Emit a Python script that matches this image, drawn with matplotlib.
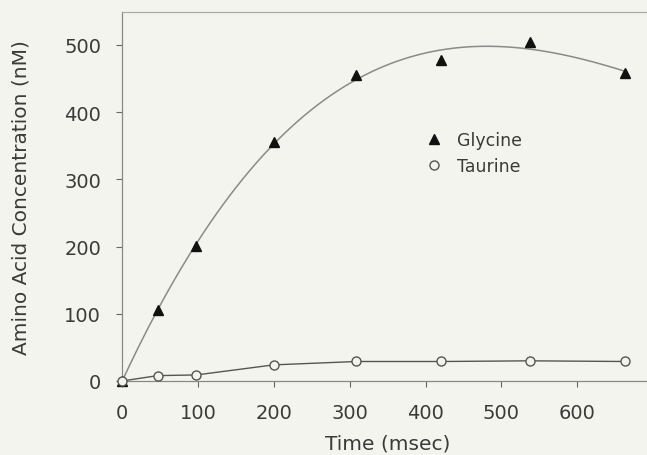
import numpy as np
import matplotlib
matplotlib.use("Agg")
import matplotlib.pyplot as plt

# Time points (msec) and measured concentrations (nM)
time_ms = [0, 47, 98, 200, 309, 421, 538, 663]
glycine = [0, 106, 201, 356, 455, 477, 505, 458]
taurine = [0, 8, 9, 24, 29, 29, 30, 29]

x_ticks = [0, 100, 200, 300, 400, 500, 600]
y_ticks = [0, 100, 200, 300, 400, 500]

bg = "#f4f4ef"
line_col = "#8a8a8a"
txt_col = "#3a3a3a"

plt.rcParams["font.family"] = ["DejaVu Sans"]

fig = plt.figure(figsize=(6.47, 4.56), dpi=100, facecolor=bg)
ax = fig.add_axes([0.1886, 0.1623, 0.8209, 0.8092], facecolor=bg)

# Smooth fitted curve for glycine
coef = np.polyfit(time_ms, glycine, 3)
xs = np.linspace(0, max(time_ms), 300)
ax.plot(xs, np.polyval(coef, xs), color=line_col, lw=1.1, zorder=2)

# Taurine trace
ax.plot(time_ms, taurine, color="#555555", lw=1.0, zorder=2)

ax.plot(time_ms, glycine, linestyle="none", marker="^", ms=6.5,
        mfc="#111111", mec="#111111", label="Glycine", zorder=3, clip_on=False)
ax.plot(time_ms, taurine, linestyle="none", marker="o", ms=6.5,
        mfc=bg, mec="#555555", mew=1.0, label="Taurine", zorder=3, clip_on=False)

ax.set_xlim(0, 700)
ax.set_ylim(0, 549)
ax.set_xticks(x_ticks)
ax.set_yticks(y_ticks)
ax.tick_params(direction="out", length=4, width=0.8, color="#666666",
               labelsize=14, labelcolor=txt_col)
ax.tick_params(axis="y", pad=11)
ax.tick_params(axis="x", pad=12)

for side in ["left", "bottom", "top"]:
    ax.spines[side].set_color("#888888")
    ax.spines[side].set_linewidth(0.9)
ax.spines["right"].set_visible(False)
ax.spines["top"].set_color("#aaaaaa")

ax.set_xlabel("Time (msec)", fontsize=14.5, color=txt_col, labelpad=8)
ax.set_ylabel("Amino Acid Concentration (nM)", fontsize=14.5, color=txt_col, labelpad=24)

leg = ax.legend(loc="upper left", bbox_to_anchor=(0.545, 0.72), frameon=False,
                fontsize=12.5, handlelength=0.8, handletextpad=0.9,
                labelspacing=0.45, labelcolor=txt_col)

fig.savefig("out.png", dpi=100, facecolor=bg)
